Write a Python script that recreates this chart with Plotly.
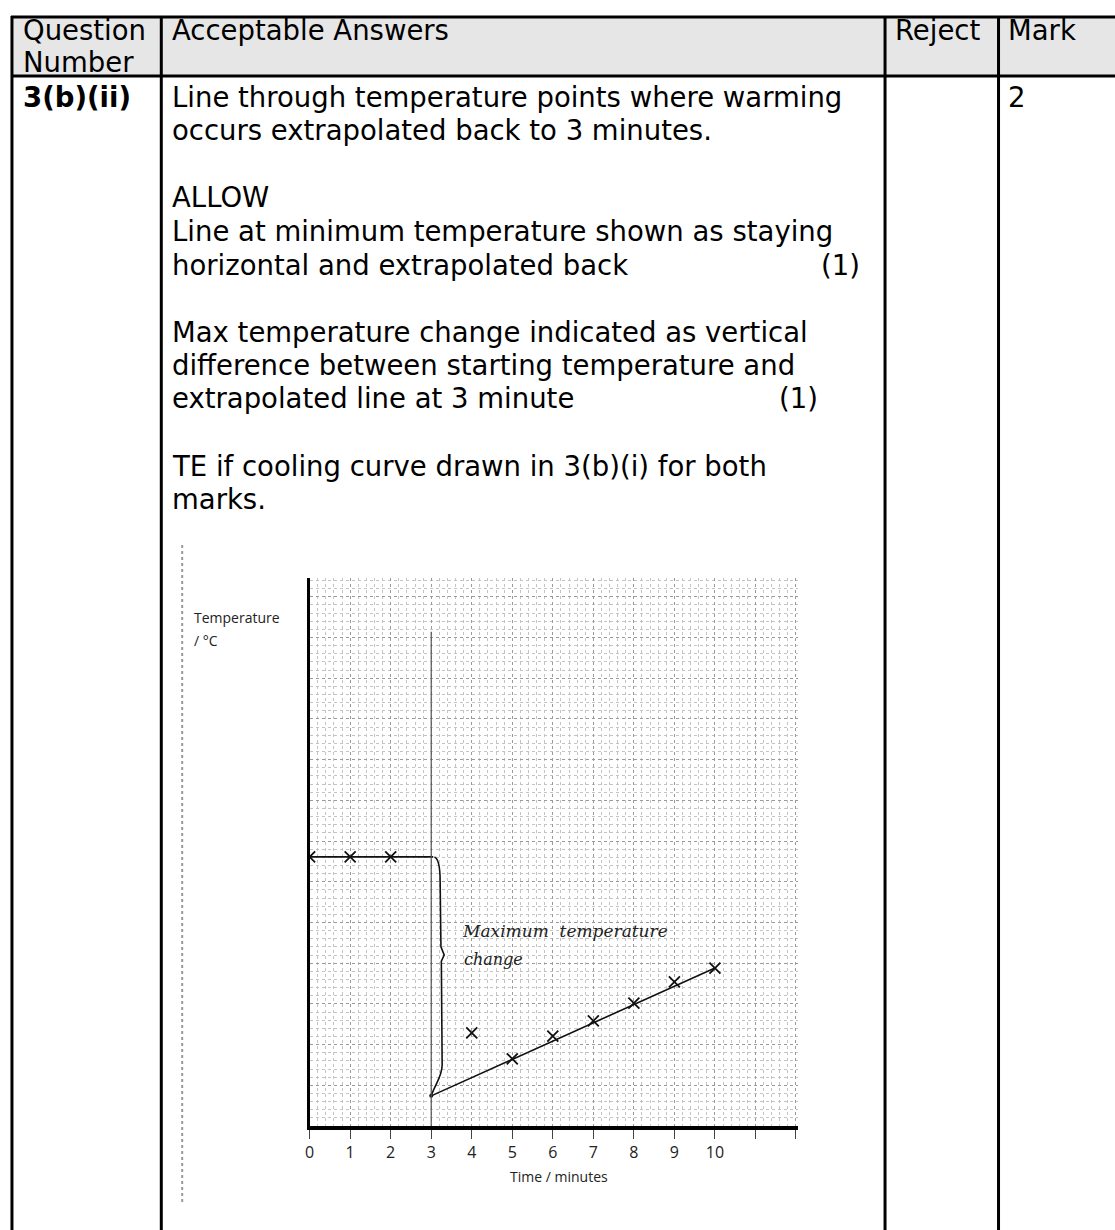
import plotly.graph_objects as go

# ---------------- data ----------------
pre_times = [0, 1, 2]                 # minutes, before mixing
pre_temps = [6.61, 6.61, 6.61]        # grid units (no scale printed)
post_times = [4, 5, 6, 7, 8, 9, 10]   # minutes, warming phase
post_temps = [2.29, 1.65, 2.21, 2.58, 3.02, 3.54, 3.88]
extrap_time = 3                       # extrapolated back to 3 minutes
extrap_temp = 0.74                    # extrapolated line at 3 minutes
tick_vals = [0, 1, 2, 3, 4, 5, 6, 7, 8, 9, 10, 11, 12]
tick_text = ["0", "1", "2", "3", "4", "5", "6", "7", "8", "9", "10", "", ""]

header_cells = [["Question", "Number"], ["Acceptable Answers"], ["Reject"], ["Mark"]]
question_number = "3(b)(ii)"
mark_value = "2"
answer_lines = [
    "Line through temperature points where warming",
    "occurs extrapolated back to 3 minutes.",
    "",
    "ALLOW",
    "Line at minimum temperature shown as staying",
    "horizontal and extrapolated back",
    "",
    "Max temperature change indicated as vertical",
    "difference between starting temperature and",
    "extrapolated line at 3 minute",
    "",
    "TE if cooling curve drawn in 3(b)(i) for both",
    "marks.",
]

W, H = 1115, 1230
def px(x):
    return x / W
def py(y):
    return 1 - y / H

FONT = "DejaVu Sans"
FS = 27.5
INK = "#111"

fig = go.Figure()

# --------------- graph traces ---------------
fig.add_trace(go.Scatter(
    x=pre_times + [extrap_time + 0.05], y=pre_temps + [pre_temps[-1]],
    mode="lines", line=dict(color=INK, width=1.6), hoverinfo="skip"))
fig.add_trace(go.Scatter(
    x=pre_times, y=pre_temps, mode="markers",
    marker=dict(symbol="x-thin-open", size=11, color=INK, line=dict(color=INK, width=1.8))))
fig.add_trace(go.Scatter(
    x=[extrap_time, post_times[-1]], y=[extrap_temp, post_temps[-1]],
    mode="lines", line=dict(color=INK, width=1.6), hoverinfo="skip"))
fig.add_trace(go.Scatter(
    x=post_times, y=post_temps, mode="markers",
    marker=dict(symbol="x-thin-open", size=11, color=INK, line=dict(color=INK, width=1.8))))
fig.add_trace(go.Scatter(
    x=[extrap_time], y=[extrap_temp], mode="markers",
    marker=dict(symbol="circle", size=4, color=INK)))

# vertical line at 3 minutes
fig.add_shape(type="line", xref="x", yref="y", x0=extrap_time, x1=extrap_time,
              y0=-0.5, y1=12.14, line=dict(color="#555", width=1.2))

# curly brace between starting temperature and extrapolated point
s, e = pre_temps[-1], extrap_temp
mid = 4.2
brace = (f"M {extrap_time+0.08},{s} "
         f"C {extrap_time+0.2},{s-0.05} {extrap_time+0.22},{s-0.3} {extrap_time+0.22},{s-0.6} "
         f"L {extrap_time+0.24},{mid+0.2} "
         f"L {extrap_time+0.32},{mid} "
         f"L {extrap_time+0.25},{mid-0.15} "
         f"L {extrap_time+0.27},{e+0.75} "
         f"C {extrap_time+0.26},{e+0.45} {extrap_time+0.1},{e+0.3} {extrap_time+0.02},{e+0.05}")
fig.add_shape(type="path", xref="x", yref="y", path=brace,
              line=dict(color=INK, width=1.6))

# handwritten note
fig.add_annotation(xref="x", yref="y", x=3.7, y=4.8, xanchor="left", yanchor="middle",
                   text="Maximum  temperature", showarrow=False,
                   font=dict(family="DejaVu Serif", size=17, color="#222", style="italic"))
fig.add_annotation(xref="x", yref="y", x=3.75, y=4.08, xanchor="left", yanchor="middle",
                   text="change", showarrow=False,
                   font=dict(family="DejaVu Serif", size=16, color="#222", style="italic"))

# axis labels of scanned graph
fig.add_annotation(xref="paper", yref="paper", x=px(188), y=py(617), xanchor="left",
                   yanchor="middle", text="Temperature", showarrow=False,
                   font=dict(family="Open Sans", size=14, color="#222"))
fig.add_annotation(xref="paper", yref="paper", x=px(188), y=py(640), xanchor="left",
                   yanchor="middle", text="/ °C", showarrow=False,
                   font=dict(family="Open Sans", size=14, color="#222"))
fig.add_annotation(xref="paper", yref="paper", x=px(556), y=py(1176), xanchor="center",
                   yanchor="middle", text="Time / minutes", showarrow=False,
                   font=dict(family="Open Sans", size=14, color="#222"))

# scan edge (dotted)
fig.add_shape(type="line", xref="paper", yref="paper", x0=px(178), x1=px(178),
              y0=py(545), y1=py(1202), line=dict(color="#9a9a9a", width=2, dash="dot"))

# --------------- table ---------------
fig.add_shape(type="rect", xref="paper", yref="paper", x0=px(7), x1=px(1116),
              y0=py(17), y1=py(76), fillcolor="#e6e6e6", line=dict(width=0), layer="below")
for xv in [7, 157, 884, 998]:
    fig.add_shape(type="line", xref="paper", yref="paper", x0=px(xv), x1=px(xv),
                  y0=py(16), y1=py(1232), line=dict(color="#000", width=3))
for yv in [17, 76]:
    fig.add_shape(type="line", xref="paper", yref="paper", x0=px(6), x1=px(1116),
                  y0=py(yv), y1=py(yv), line=dict(color="#000", width=3))

def txt(x, y, t, bold=False):
    fig.add_annotation(xref="paper", yref="paper", x=px(x - 6), y=py(y), xanchor="left",
                       yanchor="middle", text=(f"<b>{t}</b>" if bold else t), showarrow=False,
                       font=dict(family=FONT, size=FS, color="#000"))

col_x = [22, 172, 898, 1012]
for ci, cell in enumerate(header_cells):
    for li, t in enumerate(cell):
        txt(col_x[ci], 30 + li * 32, t)

txt(col_x[0], 97, question_number, bold=True)
txt(col_x[3], 97, mark_value)
line_y = [97, 130, 0, 197, 231, 265, 0, 332, 365, 398, 0, 466, 499]
for t, yv in zip(answer_lines, line_y):
    if t:
        txt(col_x[1], yv, t)
txt(824, 265, "(1)")
txt(781, 398, "(1)")

# --------------- layout ---------------
fig.update_layout(
    width=W, height=H, margin=dict(l=0, r=0, t=0, b=0),
    paper_bgcolor="white", plot_bgcolor="white", showlegend=False,
    xaxis=dict(domain=[px(306), px(797)], range=[0, 12.06], tickvals=tick_vals,
               ticktext=tick_text, ticks="outside", ticklen=9, tickwidth=1,
               tickcolor="#444", showline=True, linecolor="#000", linewidth=3.5,
               showgrid=True, gridcolor="#9a9a9a", gridwidth=1, griddash="dot",
               minor=dict(dtick=0.2, showgrid=True, gridcolor="#c4c4c4", griddash="dot", gridwidth=1),
               zeroline=False, fixedrange=True,
               tickfont=dict(family="Open Sans", size=16, color="#222")),
    yaxis=dict(domain=[py(1126), py(578)], range=[0, 13.46], dtick=1,
               showticklabels=False, ticks="", showline=True, linecolor="#000",
               linewidth=3, showgrid=True, gridcolor="#9a9a9a", gridwidth=1, griddash="dot",
               minor=dict(dtick=0.2, showgrid=True, gridcolor="#c4c4c4", griddash="dot", gridwidth=1),
               zeroline=False, fixedrange=True),
)

fig.write_html("out.html", post_script="document.body.style.margin='0';",
               config={"displayModeBar": False})
